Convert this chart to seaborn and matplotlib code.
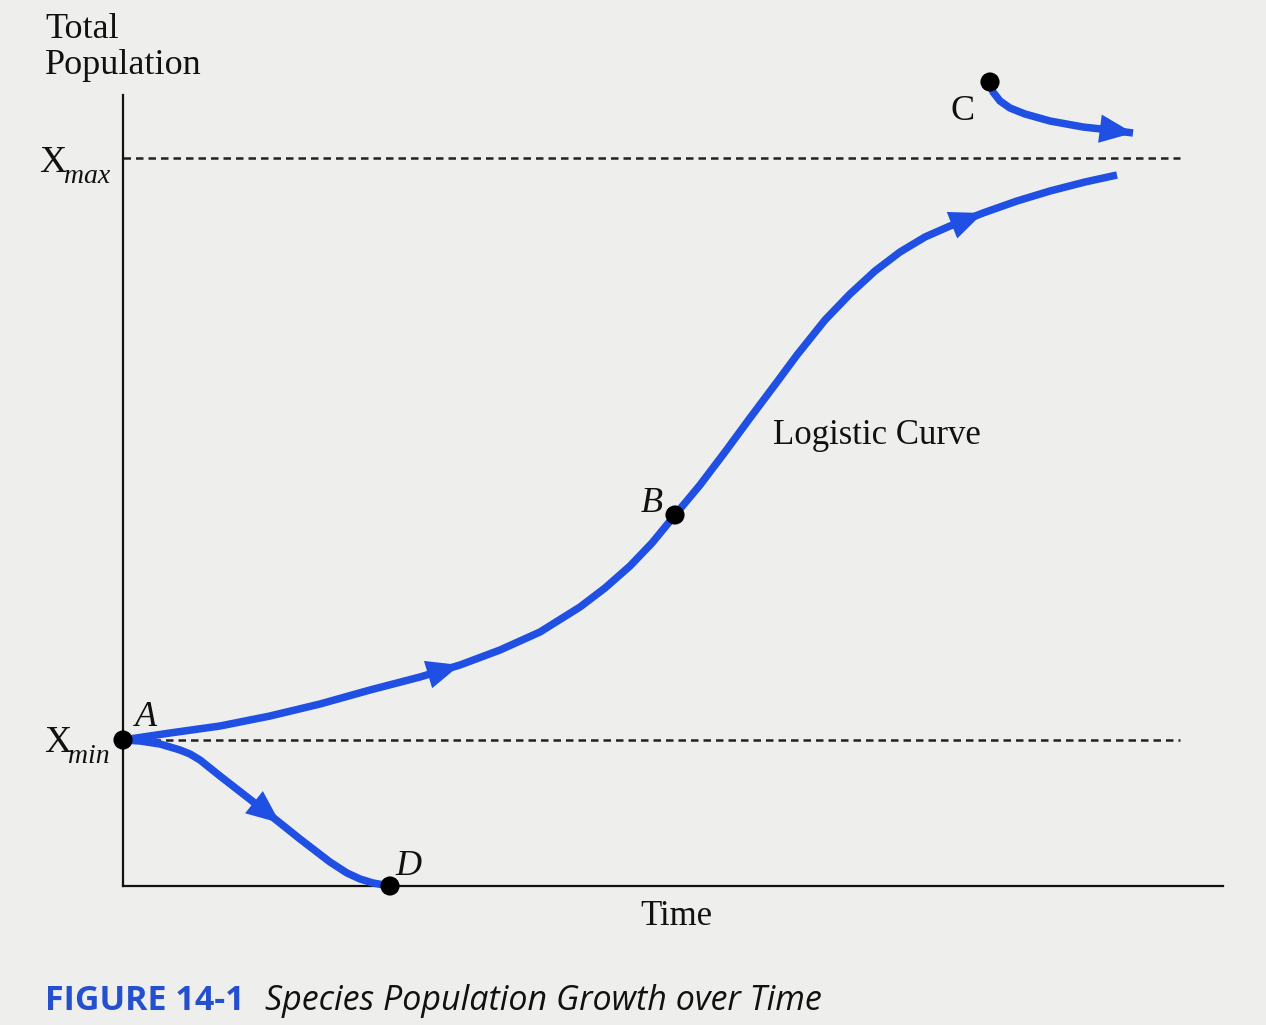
import matplotlib
matplotlib.use("Agg")
import matplotlib.pyplot as plt
import seaborn as sns
import pandas as pd

# ---------------- data (time units, population units) ----------------
logistic_time = [0, 47, 97, 147, 197, 247, 297, 337, 377, 417, 457, 482, 507, 529,
                 552, 577, 602, 627, 654, 674, 702, 727, 752, 777, 802, 827, 860,
                 894, 927, 962, 994]
logistic_pop = [146, 153, 160, 170, 182, 196, 209, 221, 236, 254, 279, 298, 320, 343,
                371, 401, 434, 468, 504, 531, 566, 592, 615, 634, 649, 660, 673,
                685, 695, 704, 711]

decline_time = [0, 17, 37, 57, 67, 77, 97, 124, 142, 157, 177, 190, 207, 224, 237, 250, 267]
decline_pop = [146, 145, 142, 136, 132, 126, 110, 89, 75, 63, 47, 37, 24, 13, 7, 3, 0]

overshoot_time = [867, 870, 877, 887, 902, 927, 960, 987, 1010]
overshoot_pop = [804, 794, 785, 778, 772, 765, 759, 756, 753]

point_labels = ["A", "B", "C", "D"]
point_time = [0, 552, 867, 267]
point_pop = [146, 371, 804, 0]

x_max = 728
x_min = 146
time_end = 1100
pop_top = 791

# ---------------- style ----------------
sns.set_theme(style="white")
plt.rcParams["font.family"] = ["Liberation Serif", "DejaVu Serif"]

BLUE = "#1f4fe3"
BG = "#eeeeec"
INK = "#111111"

fig = plt.figure(figsize=(12.66, 10.25), dpi=100, facecolor=BG)
ax = fig.add_axes([123 / 1266, 139 / 1025, 1100 / 1266, 816 / 1025])
ax.set_facecolor(BG)
ax.set_xlim(0, time_end)
ax.set_ylim(0, 816)

for s in ["top", "right"]:
    ax.spines[s].set_visible(False)
ax.spines["left"].set_bounds(0, pop_top)
ax.spines["bottom"].set_bounds(0, time_end)
for s in ["left", "bottom"]:
    ax.spines[s].set_color(INK)
    ax.spines[s].set_linewidth(1.6)
ax.set_xticks([])
ax.set_yticks([])
ax.set_xlabel("")
ax.set_ylabel("")

# dashed reference levels
ax.hlines([x_max, x_min], [0, 5], [1057, 1057], colors="#222222", lw=1.8,
          linestyles=[(0, (3.0, 2.0))], zorder=1)

# curves
curves = [
    pd.DataFrame({"time": logistic_time, "pop": logistic_pop}),
    pd.DataFrame({"time": decline_time, "pop": decline_pop}),
    pd.DataFrame({"time": overshoot_time, "pop": overshoot_pop}),
]
for df in curves:
    sns.lineplot(data=df, x="time", y="pop", sort=False, estimator=None,
                 color=BLUE, lw=5.4, ax=ax, clip_on=False, zorder=3,
                 solid_capstyle="butt")
    ax.lines[-1].set_solid_joinstyle("round")


def arrowhead(tx, ty, i, size=32):
    ax.annotate("", xy=(tx[i], ty[i]), xytext=(tx[i - 1], ty[i - 1]),
                arrowprops=dict(arrowstyle="-|>,head_length=0.75,head_width=0.32",
                                color=BLUE, lw=0, shrinkA=0, shrinkB=0,
                                mutation_scale=size),
                zorder=4, annotation_clip=False)


arrowhead(logistic_time, logistic_pop, 7)
arrowhead(logistic_time, logistic_pop, 26)
arrowhead(decline_time, decline_pop, 9)
arrowhead(overshoot_time, overshoot_pop, len(overshoot_time) - 1)

# points
sns.scatterplot(x=point_time, y=point_pop, color="black", s=190, ax=ax,
                zorder=5, clip_on=False, edgecolor="none")

# point labels
lab_pos = {"A": (12, 160, "left", True), "B": (540, 374, "right", True),
           "C": (827, 766, "left", False), "D": (272, 11, "left", True)}
for lab in point_labels:
    x, y, ha, it = lab_pos[lab]
    ax.text(x, y, lab, ha=ha, va="baseline", fontsize=26,
            style="italic" if it else "normal", color=INK, clip_on=False)

# axis texts
ax.text(-78, 873, "Total\nPopulation", ha="left", va="top", fontsize=26,
        linespacing=1.12, color=INK, clip_on=False)
ax.text(-84, 714, "X", ha="left", va="baseline", fontsize=27, color=INK, clip_on=False)
ax.text(-59, 703, "max", ha="left", va="baseline", fontsize=20, style="italic",
        color=INK, clip_on=False)
ax.text(-79, 134, "X", ha="left", va="baseline", fontsize=27, color=INK, clip_on=False)
ax.text(-55, 123, "min", ha="left", va="baseline", fontsize=20, style="italic",
        color=INK, clip_on=False)
ax.text(650, 442, "Logistic Curve", ha="left", va="baseline", fontsize=25, color=INK)
ax.text(517, -39, "Time", ha="left", va="baseline", fontsize=25, color=INK, clip_on=False)

# caption
fig.text(45 / 1266, 15 / 1025, "FIGURE 14-1", fontsize=24.5, fontweight="bold",
         color="#2450d0", family=["Open Sans", "DejaVu Sans"], ha="left", va="baseline")
fig.text(265 / 1266, 15 / 1025, "Species Population Growth over Time", fontsize=24.5,
         style="italic", color=INK, family=["Open Sans", "DejaVu Sans"],
         ha="left", va="baseline")

fig.savefig("out.png", dpi=100, facecolor=BG)
